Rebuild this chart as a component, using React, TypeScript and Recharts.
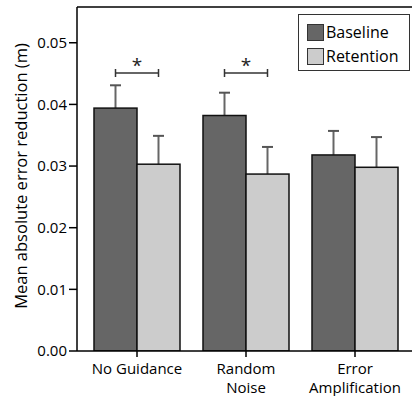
import {
  ComposedChart,
  Bar,
  Line,
  XAxis,
  YAxis,
  ReferenceLine,
} from 'recharts';

const CATEGORIES = ['No Guidance', 'Random Noise', 'Error Amplification'];
const TICK_LINES = [['No Guidance'], ['Random', 'Noise'], ['Error', 'Amplification']];
const BASELINE = [0.0394, 0.0382, 0.0318];
const BASELINE_ERR = [0.0037, 0.0037, 0.0039];
const RETENTION = [0.0303, 0.0287, 0.0298];
const RETENTION_ERR = [0.0046, 0.0044, 0.0049];
const SIGNIFICANCE = [0.0451, 0.0451, null];
const Y_TICKS = [0, 0.01, 0.02, 0.03, 0.04, 0.05];
const Y_MAX = 0.0558;

const SERIES = [
  { key: 'baseline', name: 'Baseline', color: '#666666' },
  { key: 'retention', name: 'Retention', color: '#cccccc' },
];

const FONT = '"Open Sans", sans-serif';

const data = CATEGORIES.map((name, i) => ({
  name,
  baseline: BASELINE[i],
  baselineErr: BASELINE_ERR[i],
  retention: RETENTION[i],
  retentionErr: RETENTION_ERR[i],
  bracket: SIGNIFICANCE[i],
}));

function CategoryTick(props: any) {
  const { x, y, index } = props;
  const lines = TICK_LINES[index] ?? [];
  return (
    <text x={x} y={y + 15} textAnchor="middle" fontSize={15} fill="#000" fontFamily={FONT}>
      {lines.map((l, i) => (
        <tspan key={i} x={x} dy={i === 0 ? 0 : 19}>
          {l}
        </tspan>
      ))}
    </text>
  );
}

// bar + upward-only error whisker; pixels per unit taken from the bar's own scaled height
function BarWithError(props: any) {
  const { x, y, width, height, fill, value, payload, errKey } = props;
  const v = Array.isArray(value) ? value[1] - value[0] : value;
  const err = payload?.[errKey] ?? 0;
  const errPx = v ? (err * height) / v : 0;
  const cx = x + width / 2;
  return (
    <g>
      <line x1={cx} y1={y} x2={cx} y2={y - errPx} stroke="#666" strokeWidth={2} />
      <line x1={cx - 5.5} y1={y - errPx} x2={cx + 5.5} y2={y - errPx} stroke="#555" strokeWidth={2} />
      <rect x={x} y={y} width={width} height={height} fill={fill} stroke="#111" strokeWidth={1.5} />
    </g>
  );
}

function SigBracket(props: any) {
  const { cx, cy, value, index } = props;
  if (value == null || cx == null || cy == null) return <g key={`b${index}`} />;
  const half = 21.5;
  return (
    <g key={`b${index}`} stroke="#333" strokeWidth={1.5}>
      <line x1={cx - half} y1={cy} x2={cx + half} y2={cy} />
      <line x1={cx - half} y1={cy - 4} x2={cx - half} y2={cy + 4} />
      <line x1={cx + half} y1={cy - 4} x2={cx + half} y2={cy + 4} />
      <text x={cx} y={cy - 1} textAnchor="middle" fontSize={19} stroke="none" fill="#222" fontFamily={FONT}>
        *
      </text>
    </g>
  );
}

export default function App() {
  return (
    <div style={{ position: 'absolute', left: 0, top: 0, width: 412, height: 396, background: '#fff' }}>
      <ComposedChart
        width={412}
        height={396}
        data={data}
        margin={{ top: 7, right: 0, bottom: 0, left: 0 }}
        barCategoryGap={11.5}
        barGap={0}
      >
        <XAxis
          dataKey="name"
          height={45}
          padding={{ left: 5.5, right: 2.5 }}
          axisLine={{ stroke: '#000', strokeWidth: 1.5 }}
          tickLine={{ stroke: '#000', strokeWidth: 1.5 }}
          tickSize={6}
          tick={<CategoryTick />}
          interval={0}
        />
        <YAxis
          width={77}
          domain={[0, Y_MAX]}
          ticks={Y_TICKS}
          allowDataOverflow
          tickFormatter={(v: number) => v.toFixed(2)}
          axisLine={{ stroke: '#000', strokeWidth: 1.5 }}
          tickLine={{ stroke: '#000', strokeWidth: 1.5 }}
          tickSize={8}
          tick={{ fontSize: 15, fill: '#000', fontFamily: FONT }}
          label={{
            value: 'Mean absolute error reduction (m)',
            angle: -90,
            position: 'center',
            dx: -17,
            dy: -3,
            style: { fontSize: 16.5, fill: '#000', fontFamily: FONT, textAnchor: 'middle' },
          }}
        />
        <ReferenceLine y={Y_MAX} stroke="#000" strokeWidth={1.5} ifOverflow="extendDomain" />
        {SERIES.map((s) => (
          <Bar
            key={s.key}
            dataKey={s.key}
            name={s.name}
            fill={s.color}
            shape={(p: any) => <BarWithError {...p} errKey={`${s.key}Err`} />}
            isAnimationActive={false}
          />
        ))}
        <Line
          dataKey="bracket"
          stroke="none"
          dot={(p: any) => <SigBracket {...p} />}
          activeDot={false}
          isAnimationActive={false}
          legendType="none"
        />
      </ComposedChart>
      <div
        style={{
          position: 'absolute',
          left: 298,
          top: 14,
          width: 112,
          height: 57,
          border: '1.5px solid #333',
          background: '#fff',
          fontFamily: FONT,
          fontSize: 16,
          color: '#000',
          boxSizing: 'border-box',
          padding: '5px 0 0 8px',
        }}
      >
        {SERIES.map((s) => (
          <div key={s.key} style={{ display: 'flex', alignItems: 'center', height: 24 }}>
            <span
              style={{
                display: 'inline-block',
                width: 17,
                height: 17,
                background: s.color,
                border: '1.5px solid #333',
                boxSizing: 'border-box',
                marginRight: 2,
              }}
            />
            <span>{s.name}</span>
          </div>
        ))}
      </div>
    </div>
  );
}
